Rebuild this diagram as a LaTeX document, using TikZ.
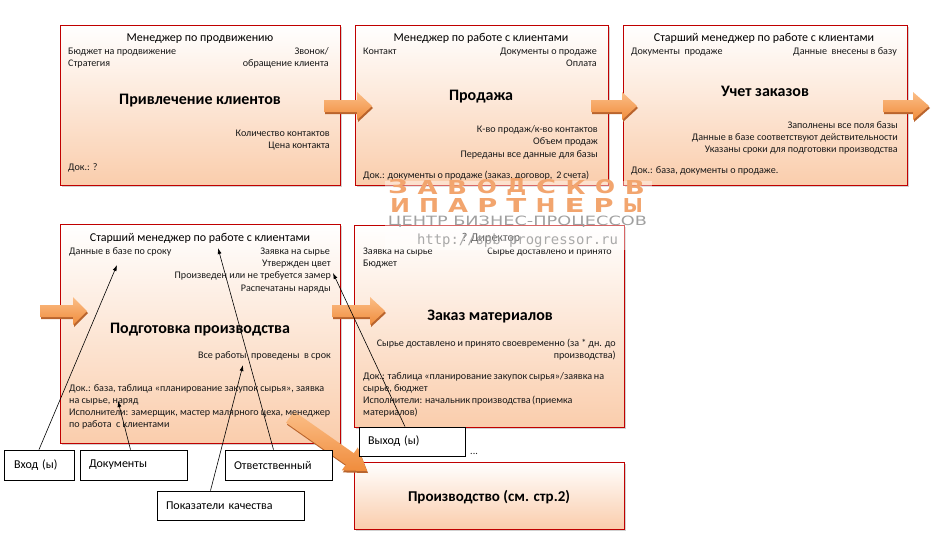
\documentclass[tikz,border=0pt]{standalone}
\usepackage{fontspec}
\setmainfont{Carlito}
\newfontfamily\wmfont{DejaVu Sans}
\newfontfamily\wmmono{DejaVu Sans Mono}
\usepackage{graphicx}
\usetikzlibrary{arrows.meta,shadows}
\definecolor{boxred}{RGB}{192,0,0}
\definecolor{peach}{RGB}{250,205,172}
\definecolor{arrowA}{RGB}{251,190,135}
\definecolor{arrowB}{RGB}{240,140,60}
\definecolor{arrowS}{RGB}{185,100,45}
\definecolor{wmorange}{RGB}{242,165,110}
\definecolor{wmgrey}{RGB}{160,160,160}
\newcommand\myharrow[4]{%
  \fill[arrowS] (#1+1,#4-4) -- (#2+1,#4-4) -- (#2+1,#4-12) -- (#3+1,#4+2) -- (#2+1,#4+16) -- (#2+1,#4+8) -- (#1+1,#4+8) -- cycle;
  \shade[top color=arrowA,bottom color=arrowB] (#1,#4-6) -- (#2,#4-6) -- (#2,#4-14) -- (#3,#4) -- (#2,#4+14) -- (#2,#4+6) -- (#1,#4+6) -- cycle;}
\begin{document}
\begin{tikzpicture}[x=1pt,y=-1pt,
  procbox/.style={draw=boxred, line width=0.7pt, top color=white, bottom color=peach, inner sep=0pt,
    drop shadow={shadow xshift=2pt, shadow yshift=-2pt, opacity=0.3, fill=black!60}},
  sm/.style={font=\fontsize{10.1}{12}\selectfont, inner sep=0pt, text=black!90},
  ttl/.style={font=\fontsize{12}{14}\selectfont, inner sep=0pt, anchor=base},
  big/.style={font=\bfseries\fontsize{16}{19}\selectfont, inner sep=0pt, anchor=base},
  W/.style={sm, anchor=base west},
  E/.style={sm, anchor=base east},
  lbl/.style={draw=black, line width=0.8pt, fill=white, font=\fontsize{12}{14}\selectfont, align=left, inner ysep=0pt},
  conn/.style={draw=black, line width=0.6pt, -{Latex[length=6pt,width=4pt]}},
  wm/.style={text=wmorange, inner sep=0pt}
]
\useasboundingbox (0,0) rectangle (934,542);
% process boxes
\node[procbox, minimum width=280pt, minimum height=160pt] (b1) at (200,105) {};
\node[procbox, minimum width=253pt, minimum height=160pt] (b2) at (481.5,105) {};
\node[procbox, minimum width=284pt, minimum height=160pt] (b3) at (765,105) {};
\node[procbox, minimum width=280pt, minimum height=219pt] (b4) at (200,333.5) {};
\node[procbox, minimum width=270pt, minimum height=202pt] (b5) at (489,326) {};
\node[procbox, minimum width=270pt, minimum height=67pt] (b6) at (489,495.5) {};
% block arrows
\myharrow{324}{357}{372}{106}
\myharrow{591}{622}{637}{106}
\myharrow{883}{913}{929}{106}
\myharrow{40}{73}{87}{311}
\myharrow{332}{370}{385}{311}
% diagonal arrow
\fill[arrowS] (287,424.7) -- (295,413.3) -- (354.8,455.2) -- (358.8,449.4) -- (368,473) -- (342.8,472.4) -- (346.8,466.6) -- cycle;
\shade[top color=arrowA,bottom color=arrowB] (286,422.7) -- (294,411.3) -- (353.8,453.2) -- (357.8,447.4) -- (367,471) -- (341.8,470.4) -- (345.8,464.6) -- cycle;
% box 1 texts
\node[ttl] (t1) at (200,41) {Менеджер по продвижению};
\node[W] (a11) at (68,54) {Бюджет на продвижение};
\node[W] (a12) at (68,66) {Стратегия};
\node[E] (a13) at (329,54) {Звонок/};
\node[E] (a14) at (329,66) {обращение\ клиента};
\node[big] (m1) at (200,104) {Привлечение клиентов};
\node[E] (a15) at (330,136) {Количество контактов};
\node[E] (a16) at (330,148) {Цена контакта};
\node[W] (a17) at (68,170) {Док.: ?};
% box 2 texts
\node[ttl] (t2) at (481,41) {Менеджер по работе с клиентами};
\node[W] (a21) at (363,54) {Контакт};
\node[E] (a22) at (597,54) {Документы о продаже};
\node[E] (a23) at (597,66) {Оплата};
\node[big] (m2) at (481,100) {Продажа};
\node[E] (a24) at (598,132) {К-во продаж/к-во контактов};
\node[E] (a25) at (598,144) {Объем продаж};
\node[E] (a26) at (598,157) {Переданы все данные для базы};
\node[W] (a27) at (363,178) {\makebox[226pt][s]{Док.: документы о продаже (заказ, договор, \ 2 счета)}};
% box 3 texts
\node[ttl] (t3) at (764,41) {Старший менеджер по работе с клиентами};
\node[W] (a31) at (631,54) {Документы\ \ продаже};
\node[E] (a32) at (897,54) {Данные\ \ внесены в базу};
\node[big] (m3) at (765,96) {Учет заказов};
\node[E] (a33) at (898,128) {Заполнены все поля базы};
\node[E] (a34) at (898,140) {Данные в базе соответствуют действительности};
\node[E] (a35) at (898,152) {Указаны сроки для подготовки производства};
\node[W] (a36) at (631,173) {Док.: база, документы о продаже.};
% box 4 texts
\node[ttl] (t4) at (200,241) {Старший менеджер по работе с клиентами};
\node[W] (a41) at (69,254) {Данные в базе по сроку};
\node[E] (a42) at (330,254) {Заявка на сырье};
\node[E] (a43) at (331,266) {Утвержден цвет};
\node[E] (a44) at (331,278) {Произведен или не требуется замер};
\node[E] (a45) at (331,291) {Распечатаны наряды};
\node[big] (m4) at (200,333) {Подготовка производства};
\node[E] (a46) at (331,358) {Все работы\ \ проведены\ \ в срок};
\node[W] (a47) at (69,391) {\makebox[255pt][s]{Док.: база, таблица «планирование закупок сырья», заявка}};
\node[W] (a48) at (69,403) {на сырье, наряд};
\node[W] (a49) at (69,415) {\makebox[261pt][s]{Исполнители: замерщик, мастер малярного цеха, менеджер}};
\node[W] (a40) at (69,427) {по работа\ \ с клиентами};
% box 5 texts
\node[ttl] (t5) at (491,241) {? Директор};
\node[W] (a51) at (363,254) {Заявка на сырье};
\node[E] (a52) at (612,254) {Сырье доставлено и принято};
\node[W] (a53) at (363,266) {Бюджет};
\node[big] (m5) at (490,320) {Заказ материалов};
\node[E] (a54) at (616,346) {\makebox[239pt][s]{Сырье доставлено и принято своевременно (за * дн. до}};
\node[E] (a55) at (616,358) {производства)};
\node[W] (a56) at (363,379) {\makebox[241pt][s]{Док.: таблица «планирование закупок сырья»/заявка на}};
\node[W] (a57) at (363,391) {сырье, бюджет};
\node[W] (a58) at (363,403) {\makebox[209pt][s]{Исполнители: начальник производства (приемка}};
\node[W] (a59) at (363,415) {материалов)};
% box 6
\node[big, font=\bfseries\fontsize{15}{18}\selectfont] (m6) at (489,501) {Производство (см. стр.2)};
% label boxes
\node[lbl, text width=50pt, inner xsep=10pt, minimum height=30pt] (vh) at (39,465) {Вход (ы)};
\node[lbl, text width=89pt, inner xsep=9pt, minimum height=30pt] (doc) at (133.5,465) {Документы};
\node[lbl, text width=89pt, inner xsep=9pt, minimum height=30pt] (otv) at (278.5,465) {Ответственный};
\node[lbl, text width=129pt, inner xsep=9pt, minimum height=29pt] (pk) at (230.5,505.5) {Показатели качества};
\node[lbl, text width=88pt, inner xsep=9pt, minimum height=29pt] (vyh) at (412,441.5) {Выход (ы)};
\node[W] (dots) at (470,454) {...};
% connector targets
\coordinate (c1) at (117,265);
\coordinate (c2) at (118,401);
\coordinate (c3) at (218,248);
\coordinate (c4) at (243,365);
\coordinate (c5) at (333,273);
\draw[conn] (vh.north) -- (c1);
\draw[conn] ([xshift=-3pt]doc.north) -- (c2);
\draw[conn] ([xshift=-5pt]otv.north) -- (c3);
\draw[conn] ([xshift=-20pt]pk.north) -- (c4);
\draw[conn] ([xshift=-7pt]vyh.north) -- (c5);
% watermark
\fill[white, opacity=0.4] (385,181) rectangle (652,250);
\foreach \l [count=\i from 0] in {З,А,В,О,Д,С,К,О,В}
  \node[wm] (wa\i) at (398+29.6*\i,187) {\resizebox{20pt}{14pt}{\wmfont\bfseries\l}};
\foreach \l [count=\i from 0] in {И,П,А,Р,Т,Н,Е,Р,Ы}
  \node[wm] (wb\i) at (400+29.1*\i,205) {\resizebox{20pt}{14pt}{\wmfont\bfseries\l}};
\node[inner sep=0pt, text=wmgrey] (wc) at (517.5,222) {\resizebox{259pt}{9.5pt}{\wmfont ЦЕНТР БИЗНЕС-ПРОЦЕССОВ}};
\node[inner sep=0pt, text=wmgrey, opacity=0.9] (wd) at (517.5,241) {\resizebox{201pt}{!}{\wmmono\fontsize{14}{16}\selectfont http://spb-progressor.ru}};
\end{tikzpicture}
\end{document}
